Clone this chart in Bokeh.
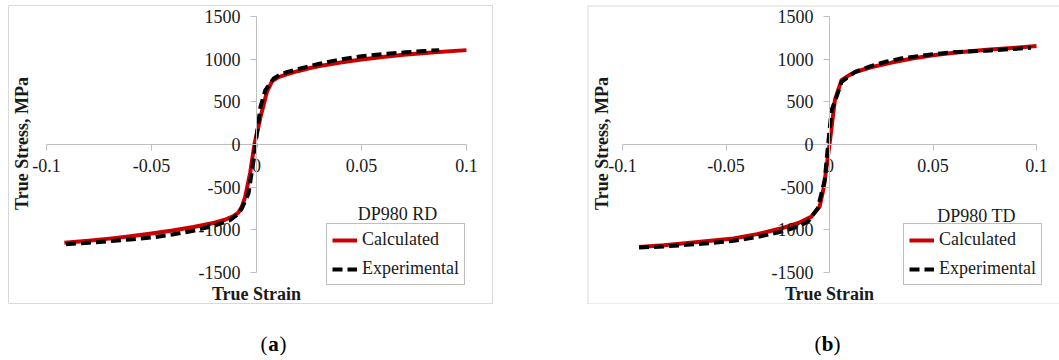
import math
from bokeh.plotting import figure
from bokeh.models import (LinearAxis, FixedTicker, Range1d, Legend, LegendItem,
                          Label, Span)
from bokeh.layouts import row, column
from bokeh.core.properties import value
from bokeh.embed import file_html
from bokeh.resources import INLINE

# ---------------- data ----------------
x_ticks = [-0.1, -0.05, 0.0, 0.05, 0.1]
x_tick_labels = ["-0.1", "-0.05", "0", "0.05", "0.1"]
y_ticks = [-1500, -1000, -500, 0, 500, 1000, 1500]
y_tick_labels = ["-1500", "-1000", "-500", "0", "500", "1000", "1500"]

series_names = ["Calculated", "Experimental"]
panel_tags = ["DP980 RD", "DP980 TD"]
caption_letters = ["a", "b"]
x_title = "True Strain"
y_title = "True Stress, MPa"

# (a) DP980 RD
rd_calc_strain = [-0.0915, -0.08, -0.07, -0.06, -0.05, -0.04, -0.03, -0.02, -0.015,
                  -0.011, -0.0085, -0.007, -0.0054, -0.003, -0.001, 0.002, 0.005,
                  0.0075, 0.0105, 0.0147, 0.02, 0.025, 0.03, 0.04, 0.05, 0.06, 0.07,
                  0.085, 0.1]
rd_calc_stress = [-1152, -1128, -1103, -1075, -1043, -1008, -967, -917, -882,
                  -840, -795, -730, -613, -330, 0, 330, 620,
                  745, 790, 826, 862, 893, 920, 962, 996, 1026, 1052,
                  1082, 1106]
rd_exp_strain = [-0.0907, -0.08, -0.07, -0.06, -0.05, -0.04, -0.03, -0.02, -0.0126,
                 -0.009, -0.007, -0.0038, -0.0014, 0.0002, 0.0019, 0.0042, 0.0082,
                 0.011, 0.0147, 0.02, 0.025, 0.03, 0.04, 0.05, 0.06, 0.071, 0.08, 0.087]
rd_exp_stress = [-1168, -1152, -1132, -1112, -1090, -1055, -1010, -950, -887,
                 -820, -750, -574, -184, 129, 441, 637, 774,
                 815, 850, 885, 917, 947, 997, 1035, 1060, 1080, 1095, 1106]

# (b) DP980 TD
td_calc_strain = [-0.092, -0.08, -0.071, -0.06, -0.0464, -0.035, -0.0236, -0.015,
                  -0.0089, -0.0048, -0.0027, 0.0, 0.0026, 0.0058, 0.009, 0.0125,
                  0.02, 0.03, 0.04, 0.05, 0.06, 0.076, 0.09, 0.1]
td_calc_stress = [-1200, -1180, -1160, -1135, -1102, -1050, -985, -920,
                  -848, -730, -496, 0, 520, 754, 805, 850,
                  905, 960, 1008, 1047, 1075, 1110, 1135, 1153]
td_exp_strain = [-0.092, -0.08, -0.071, -0.06, -0.0464, -0.035, -0.0236, -0.015,
                 -0.0105, -0.0057, -0.0023, -0.0008, 0.001, 0.0034, 0.0058, 0.0124,
                 0.02, 0.027, 0.035, 0.05, 0.06, 0.076, 0.0973]
td_exp_stress = [-1207, -1195, -1180, -1160, -1129, -1085, -1024, -960,
                 -906, -750, -418, -27, 402, 559, 734, 852,
                 918, 969, 1010, 1059, 1080, 1100, 1133]

# ---------------- style ----------------
FONT = "Liberation Serif"
RED = "#cc0000"
AXIS_COLOR = "#bfbfbf"
BORDER_COLOR = "#d9d9d9"
TEXT_COLOR = "#1a1a1a"
H = 299


def make_panel(width, x0_px, x1_px, cx, cy, ex, ey, tag, legend_loc, tag_xy,
               ytitle_xy, xtitle_xy, full_border):
    y_top_px, y_bot_px = 11, 267
    xs = (x_ticks[-1] - x_ticks[0]) / (x1_px - x0_px)
    x_start = x_ticks[0] - x0_px * xs
    x_end = x_ticks[-1] + (width - x1_px) * xs
    ys = (y_ticks[-1] - y_ticks[0]) / (y_bot_px - y_top_px)
    y_end = y_ticks[-1] + y_top_px * ys
    y_start = y_ticks[0] - (H - y_bot_px) * ys

    p = figure(width=width, height=H, x_range=Range1d(x_start, x_end),
               y_range=Range1d(y_start, y_end), output_backend="svg",
               toolbar_location=None, x_axis_location=None, y_axis_location=None,
               min_border=0, background_fill_color="white",
               border_fill_color="white")
    p.grid.visible = False
    if full_border:
        p.outline_line_color = BORDER_COLOR
        p.outline_line_width = 1
    else:
        p.outline_line_color = None
        for loc, dim in ((y_end, "width"), (y_start, "width"), (x_start, "height")):
            p.add_layout(Span(location=loc, dimension=dim, line_color=BORDER_COLOR,
                              line_width=2))

    xaxis = LinearAxis(fixed_location=0, bounds=(x_ticks[0], x_ticks[-1]),
                       ticker=FixedTicker(ticks=x_ticks),
                       major_label_overrides={t: s for t, s in zip(x_ticks, x_tick_labels)})
    yaxis = LinearAxis(fixed_location=0, bounds=(y_ticks[0], y_ticks[-1]),
                       ticker=FixedTicker(ticks=y_ticks),
                       major_label_overrides={t: s for t, s in zip(y_ticks, y_tick_labels)})
    for ax in (xaxis, yaxis):
        ax.axis_line_color = AXIS_COLOR
        ax.axis_line_width = 1
        ax.major_tick_line_color = AXIS_COLOR
        ax.major_tick_out = 6
        ax.major_tick_in = 0
        ax.minor_tick_line_color = None
        ax.major_label_text_font = FONT
        ax.major_label_text_font_size = "18px"
        ax.major_label_text_color = TEXT_COLOR
    xaxis.major_label_standoff = 8
    yaxis.major_label_standoff = 10
    p.add_layout(xaxis, "below")
    p.add_layout(yaxis, "left")

    r_calc = p.line(cx, cy, line_color=RED, line_width=4, line_join="round")
    r_exp = p.line(ex, ey, line_color="black", line_width=4, line_dash="10 5",
                   line_join="round")

    legend = Legend(items=[LegendItem(label=series_names[0], renderers=[r_calc]),
                           LegendItem(label=series_names[1], renderers=[r_exp])],
                    location=legend_loc, margin=0, padding=5, spacing=8,
                    glyph_width=25, glyph_height=20, label_height=20,
                    label_standoff=5, label_text_font=FONT,
                    label_text_font_size="18px", label_text_color=TEXT_COLOR,
                    border_line_color="#808080", border_line_width=1,
                    background_fill_color="white", background_fill_alpha=1.0)
    p.add_layout(legend)

    p.add_layout(Label(x=tag_xy[0], y=tag_xy[1], x_units="screen", y_units="screen",
                       text=tag, text_align="center", text_baseline="middle",
                       text_font=FONT, text_font_size="18px", text_color=TEXT_COLOR))
    p.add_layout(Label(x=ytitle_xy[0], y=ytitle_xy[1], x_units="screen", y_units="screen",
                       text=y_title, angle=math.pi / 2, text_align="center",
                       text_baseline="middle", text_font=FONT, text_font_size="18px",
                       text_font_style="bold", text_color=TEXT_COLOR))
    p.add_layout(Label(x=xtitle_xy[0], y=xtitle_xy[1], x_units="screen", y_units="screen",
                       text=x_title, text_align="center", text_baseline="middle",
                       text_font=FONT, text_font_size="18px", text_font_style="bold",
                       text_color=TEXT_COLOR))
    return p


pa = make_panel(485, 38, 458, rd_calc_strain, rd_calc_stress, rd_exp_strain, rd_exp_stress,
                panel_tags[0], (318, 19), (389, 91), (13, 161), (248, 11), True)
pb = make_panel(472, 35, 449, td_calc_strain, td_calc_stress, td_exp_strain, td_exp_stress,
                panel_tags[1], (316, 19), (389, 89), (14, 161), (242, 11), False)
pb.margin = (0, 0, 0, 94)

# captions
cap = figure(width=1051, height=56, x_range=Range1d(0, 1051), y_range=Range1d(0, 56),
             output_backend="svg", toolbar_location=None, x_axis_location=None,
             y_axis_location=None, min_border=0, outline_line_color=None)
cap.grid.visible = False
cap_x = [265, 819]
cap_y = [17, 17]
cap.text(x=cap_x, y=cap_y, text=caption_letters, text_font=value(FONT),
         text_font_size="21px", text_font_style="bold", text_align="center",
         text_baseline="middle", text_color="black")
cap.text(x=cap_x, y=cap_y, text=["("] * 2, x_offset=-6, text_font=value(FONT),
         text_font_size="21px", text_align="right", text_baseline="middle",
         text_color="black")
cap.text(x=cap_x, y=cap_y, text=[")"] * 2, x_offset=6, text_font=value(FONT),
         text_font_size="21px", text_align="left", text_baseline="middle",
         text_color="black")

layout = column(row(pa, pb), cap, margin=(5, 0, 0, 8))

open("out.html", "w").write(file_html(layout, INLINE))
